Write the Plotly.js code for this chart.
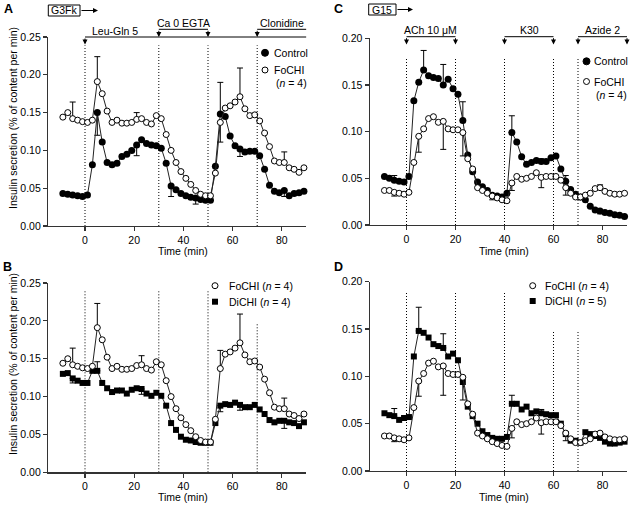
<!DOCTYPE html>
<html><head><meta charset="utf-8">
<script src="https://cdn.plot.ly/plotly-3.0.1.min.js"></script>
<style>html,body{margin:0;padding:0;background:#fff}#chart{width:632px;height:506px}</style>
</head><body><div id="chart"></div>
<script>
// ---------- data ----------
const time = [-9,-7,-5,-3,-1,1,3,5,7,9,11,13,15,17,19,21,23,25,27,29,31,33,35,37,39,41,43,45,47,49,51,53,55,57,59,61,63,65,67,69,71,73,75,77,79,81,83,85,87,89];
const xTicks = [0,20,40,60,80];
const yTicksAB = [0,0.05,0.10,0.15,0.20,0.25];
const yTicksCD = [0,0.05,0.10,0.15,0.20];

// G3Fk experiments (panels A and B)
const g3fkControl = [0.043,0.042,0.041,0.040,0.039,0.041,0.081,0.150,0.111,0.084,
  0.081,0.083,0.092,0.095,0.100,0.107,0.114,0.109,0.107,0.106,
  0.103,0.083,0.053,0.048,0.043,0.040,0.038,0.037,0.035,0.034,
  0.034,0.079,0.148,0.145,0.119,0.106,0.102,0.098,0.099,0.099,
  0.093,0.075,0.054,0.046,0.044,0.047,0.040,0.043,0.044,0.046];
const g3fkFoCHI = [0.144,0.150,0.142,0.140,0.138,0.137,0.140,0.191,0.175,0.152,
  0.137,0.140,0.136,0.136,0.137,0.141,0.142,0.137,0.135,0.146,
  0.142,0.121,0.100,0.084,0.072,0.063,0.055,0.047,0.042,0.040,
  0.040,0.070,0.137,0.156,0.159,0.164,0.171,0.155,0.146,0.147,
  0.139,0.123,0.105,0.086,0.084,0.084,0.077,0.075,0.071,0.077];
const g3fkDiCHI = [0.130,0.131,0.124,0.121,0.118,0.118,0.134,0.134,0.118,0.111,
  0.106,0.108,0.108,0.104,0.109,0.111,0.110,0.104,0.101,0.105,
  0.101,0.088,0.065,0.056,0.047,0.043,0.042,0.040,0.039,0.039,
  0.039,0.065,0.088,0.090,0.089,0.092,0.089,0.086,0.086,0.089,
  0.083,0.077,0.069,0.066,0.068,0.068,0.066,0.065,0.061,0.066];

// G15 experiments (panels C and D)
const g15Control = [0.052,0.050,0.048,0.047,0.046,0.052,0.133,0.153,0.166,0.160,
  0.158,0.157,0.150,0.156,0.146,0.140,0.112,0.075,0.057,0.046,
  0.041,0.037,0.032,0.031,0.030,0.034,0.099,0.089,0.073,0.065,
  0.067,0.069,0.068,0.068,0.072,0.074,0.060,0.047,0.038,0.033,
  0.030,0.027,0.020,0.016,0.015,0.0135,0.0125,0.011,0.0105,0.009];
const g15FoCHI = [0.037,0.037,0.035,0.034,0.033,0.035,0.067,0.095,0.103,0.114,
  0.116,0.110,0.111,0.103,0.102,0.102,0.099,0.071,0.060,0.040,
  0.037,0.034,0.031,0.029,0.027,0.026,0.045,0.052,0.049,0.050,
  0.052,0.056,0.051,0.052,0.052,0.052,0.048,0.040,0.034,0.030,
  0.030,0.032,0.034,0.039,0.040,0.036,0.034,0.033,0.033,0.034];
const g15DiCHI = [0.061,0.059,0.058,0.054,0.056,0.057,0.121,0.148,0.146,0.141,
  0.134,0.132,0.130,0.121,0.124,0.117,0.094,0.068,0.058,0.050,
  0.042,0.038,0.035,0.034,0.034,0.036,0.071,0.071,0.065,0.068,
  0.061,0.063,0.061,0.060,0.059,0.059,0.050,0.039,0.032,0.032,
  0.030,0.041,0.039,0.037,0.035,0.031,0.029,0.029,0.030,0.031];

// error bars shown: [time, signed length] (+ up, - down)
const errA_control = [[5,-0.030],[21,-0.014],[35,-0.014],[45,-0.008],[55,0.042],[63,-0.010],[81,-0.008]];
const errA_fochi   = [[-5,0.022],[5,0.033],[21,0.009],[55,-0.026],[63,0.038],[81,0.014]];
const errB_fochi   = [[-5,0.022],[5,0.032],[23,0.012],[45,-0.008],[55,0.024],[63,0.038],[81,0.014]];
const errB_dichi   = [[-5,-0.006],[5,0.012],[23,-0.007],[55,-0.008],[63,-0.007],[81,-0.010]];
const errC_control = [[-5,0.005],[7,0.021],[15,0.022],[23,0.020],[35,-0.005],[43,0.018],[55,0.003],[65,0.006],[79,-0.003]];
const errC_fochi   = [[-5,-0.004],[5,-0.017],[15,-0.030],[23,-0.025],[43,-0.008],[55,-0.011],[65,-0.008],[79,0.003]];
const errD_dichi   = [[-5,0.008],[5,0.025],[15,0.015],[43,0.009],[55,0.004]];
const errD_fochi   = [[-5,-0.004],[5,-0.016],[15,-0.031],[23,-0.024],[43,-0.010],[55,-0.012],[65,-0.008]];

// stimulation protocol
const stimLinesAB = [0,30,50,70];
const stimLinesCD = [0,20,40,60,70];
const stimA = [{label:'Ca 0 EGTA', from:30, to:50},{label:'Clonidine', from:70, to:90}];
const stimC = [{label:'ACh 10 μM', from:0, to:20},{label:'K30', from:40, to:60},{label:'Azide 2', from:70, to:90}];

// ---------- helpers ----------
const W = 632, H = 506;
const PX = x => x / W;
const PY = y => 1 - y / H;
const FONT = 'Liberation Sans, Arial, Helvetica, sans-serif';

function errorY(list){
  const up = time.map(() => NaN), dn = time.map(() => NaN);
  list.forEach(([t, v]) => {
    const i = time.indexOf(t);
    if (v >= 0) { up[i] = v; dn[i] = 0; } else { dn[i] = -v; up[i] = 0; }
  });
  return {type:'data', symmetric:false, array:up, arrayminus:dn, color:'#000', thickness:1, width:3};
}
const STY = {
  filled: {marker:{symbol:'circle', size:7, color:'#000'}},
  open:   {marker:{symbol:'circle', size:6, color:'#fff', line:{color:'#000', width:1}}},
  square: {marker:{symbol:'square', size:6, color:'#000'}}
};
function series(name, xa, ya, y, sty, err){
  return Object.assign({type:'scatter', mode:'lines+markers', name, x:time, y, xaxis:xa, yaxis:ya,
    line:{color:'#222', width:1}, error_y:errorY(err), cliponaxis:false, showlegend:false}, STY[sty]);
}

const data = [
  series('Control','x','y',g3fkControl,'filled',errA_control),
  series('FoCHI (n = 4)','x','y',g3fkFoCHI,'open',errA_fochi),
  series('DiCHI (n = 4)','x2','y2',g3fkDiCHI,'square',errB_dichi),
  series('FoCHI (n = 4)','x2','y2',g3fkFoCHI,'open',errB_fochi),
  series('Control','x3','y3',g15Control,'filled',errC_control),
  series('FoCHI (n = 4)','x3','y3',g15FoCHI,'open',errC_fochi),
  series('DiCHI (n = 5)','x4','y4',g15DiCHI,'square',errD_dichi),
  series('FoCHI (n = 4)','x4','y4',g15FoCHI,'open',errD_fochi)
];

const axisBase = {showline:true, linecolor:'#333', linewidth:1.2, ticks:'outside', ticklen:4, tickwidth:1.2,
  tickcolor:'#333', showgrid:false, zeroline:false, tickfont:{family:FONT, size:10.5, color:'#000'}, fixedrange:true};
const xAB = Object.assign({}, axisBase, {range:[-15,90], tickvals:xTicks, domain:[PX(48.1), PX(306.4)]});
const xCD = Object.assign({}, axisBase, {range:[-15,90], tickvals:xTicks, domain:[PX(369.75), PX(627)]});
const yAB = Object.assign({}, axisBase, {range:[0,0.25], tickvals:yTicksAB, tickformat:'.2f'});
const yCD = Object.assign({}, axisBase, {range:[0,0.20], tickvals:yTicksCD, tickformat:'.2f'});

const layout = {
  width:W, height:H, margin:{l:0,r:0,t:0,b:0}, paper_bgcolor:'#fff', plot_bgcolor:'rgba(0,0,0,0)',
  font:{family:FONT, size:10.5, color:'#000'}, showlegend:false,
  xaxis: Object.assign({}, xAB, {anchor:'y'}),
  yaxis: Object.assign({}, yAB, {anchor:'x', domain:[PY(226), PY(37)]}),
  xaxis2: Object.assign({}, xAB, {anchor:'y2'}),
  yaxis2: Object.assign({}, yAB, {anchor:'x2', domain:[PY(472.3), PY(283)]}),
  xaxis3: Object.assign({}, xCD, {anchor:'y3'}),
  yaxis3: Object.assign({}, yCD, {anchor:'x3', domain:[PY(225), PY(38.3)]}),
  xaxis4: Object.assign({}, xCD, {anchor:'y4'}),
  yaxis4: Object.assign({}, yCD, {anchor:'x4', domain:[PY(471), PY(281.7)]}),
  shapes:[], annotations:[]
};
const S = layout.shapes, A = layout.annotations;

// dotted stimulus lines
stimLinesAB.forEach(t => {
  S.push({type:'line', xref:'x', yref:'y', x0:t, x1:t, y0:0, y1:0.239, line:{color:'#000', width:1, dash:'1px,2px'}});
  S.push({type:'line', xref:'x2', yref:'y2', x0:t, x1:t, y0:0, y1:(t===70?0.198:0.239), line:{color:'#000', width:1, dash:'1px,2px'}});
});
stimLinesCD.forEach(t => {
  S.push({type:'line', xref:'x3', yref:'y3', x0:t, x1:t, y0:0, y1:0.178, line:{color:'#000', width:1, dash:'1px,2px'}});
  S.push({type:'line', xref:'x4', yref:'y4', x0:t, x1:t, y0:0, y1:(t>=60?0.147:0.189), line:{color:'#000', width:1, dash:'1px,2px'}});
});

function arrow(xref, x, yTipPx, len){
  A.push({xref, yref:'paper', x, y:PY(yTipPx), ax:0, ay:-len, axref:'pixel', ayref:'pixel', text:'',
    showarrow:true, arrowhead:2, arrowsize:1, arrowwidth:1, arrowcolor:'#000', standoff:0, startstandoff:0});
}
function hline(xref, x0, x1, yPx){
  S.push({type:'line', xref, yref:'paper', x0, x1, y0:PY(yPx), y1:PY(yPx), line:{color:'#000', width:1}});
}
function text(t, x, y, opts){
  A.push(Object.assign({text:t, xref:'paper', yref:'paper', x:PX(x), y:PY(y), showarrow:false,
    xanchor:'center', yanchor:'middle', borderpad:0, font:{family:FONT, size:10.5, color:'#000'}}, opts||{}));
}

// ---- panel A header ----
hline('x', 0, 90, 37);
arrow('x', 0, 44.5, 7.5);
A.push({text:'Leu-Gln 5', xref:'x', yref:'paper', x:12, y:PY(31), showarrow:false, yanchor:'middle', font:{family:FONT,size:10.5,color:'#000'}});
stimA.forEach(s => {
  hline('x', s.from, s.to, 29.3);
  arrow('x', s.from, 37, 7.7);
  if (s.to < 90) arrow('x', s.to, 37, 7.7);
  A.push({text:s.label, xref:'x', yref:'paper', x:(s.from+s.to)/2, y:PY(23), showarrow:false, yanchor:'middle', font:{family:FONT,size:10.5,color:'#000'}});
});
// ---- panel C header ----
stimC.forEach(s => {
  hline('x3', s.from, s.to, 36.7);
  arrow('x3', s.from, 44.5, 7.8);
  arrow('x3', s.to, 44.5, 7.8);
  A.push({text:s.label, xref:'x3', yref:'paper', x:(s.from+s.to)/2, y:PY(30.5), showarrow:false, yanchor:'middle', font:{family:FONT,size:10.5,color:'#000'}});
});

// condition boxes
S.push({type:'rect', xref:'paper', yref:'paper', x0:PX(48.3), x1:PX(80), y0:PY(16), y1:PY(5), line:{color:'#000', width:1}});
text('G3Fk', 64.2, 10.5);
A.push({xref:'paper', yref:'paper', x:PX(98), y:PY(10.5), ax:-18, ay:0, text:'', showarrow:true, arrowhead:2, arrowsize:1, arrowwidth:1, arrowcolor:'#000', standoff:0});
S.push({type:'rect', xref:'paper', yref:'paper', x0:PX(368.7), x1:PX(396), y0:PY(15), y1:PY(4), line:{color:'#000', width:1}});
text('G15', 382.4, 9.5);
A.push({xref:'paper', yref:'paper', x:PX(413), y:PY(9.5), ax:-17, ay:0, text:'', showarrow:true, arrowhead:2, arrowsize:1, arrowwidth:1, arrowcolor:'#000', standoff:0});

// panel letters
const bold = {font:{family:FONT, size:12.5, color:'#000', weight:'bold'}};
text('<b>A</b>', 8, 8.5, bold);
text('<b>B</b>', 7, 267, bold);
text('<b>C</b>', 338, 8.5, bold);
text('<b>D</b>', 338, 267, bold);

// axis titles
const ytitle = 'Insulin secretion (% of content per min)';
text(ytitle, 13, 118, {textangle:-90});
text(ytitle, 13, 364, {textangle:-90});
[['x',251],['x2',497],['x3',251],['x4',497]].forEach(([xa, y]) => {
  A.push({text:'Time (min)', xref:xa, yref:'paper', x:40, y:PY(y), showarrow:false, yanchor:'middle', font:{family:FONT,size:10.5,color:'#000'}});
});

// legends
function legCircle(cx, cy, filled){
  const r = filled ? 3.5 : 3;
  S.push({type:'circle', xref:'paper', yref:'paper', x0:PX(cx-r), x1:PX(cx+r), y0:PY(cy+r), y1:PY(cy-r),
    fillcolor: filled ? '#000' : '#fff', line:{color:'#000', width:1}});
}
function legSquare(cx, cy){
  S.push({type:'rect', xref:'paper', yref:'paper', x0:PX(cx-3), x1:PX(cx+3), y0:PY(cy+3), y1:PY(cy-3), fillcolor:'#000', line:{color:'#000', width:0}});
}
const L = {xanchor:'left'};
// A
legCircle(265, 52.8, true);  text('Control', 273, 52.8, L);
legCircle(265, 70, false);   text('FoCHI', 273, 70, L);  text('(<i>n</i> = 4)', 275, 82.5, L);
// C
legCircle(586.5, 61.3, true); text('Control', 593, 61.3, L);
legCircle(586.5, 81.5, false); text('FoCHI', 593, 81.5, L); text('(<i>n</i> = 4)', 595, 94.5, L);
// B
legCircle(215, 285.7, false); text('FoCHI (<i>n</i> = 4)', 228.3, 285.7, L);
legSquare(215, 301.7);        text('DiCHI (<i>n</i> = 4)', 228.3, 301.7, L);
// D
legCircle(532.7, 285.7, false); text('FoCHI (<i>n</i> = 4)', 544, 285.7, L);
legSquare(532.7, 301);          text('DiCHI (<i>n</i> = 5)', 544, 301, L);

Plotly.newPlot('chart', data, layout, {staticPlot:true, displayModeBar:false});
</script>
</body></html>
